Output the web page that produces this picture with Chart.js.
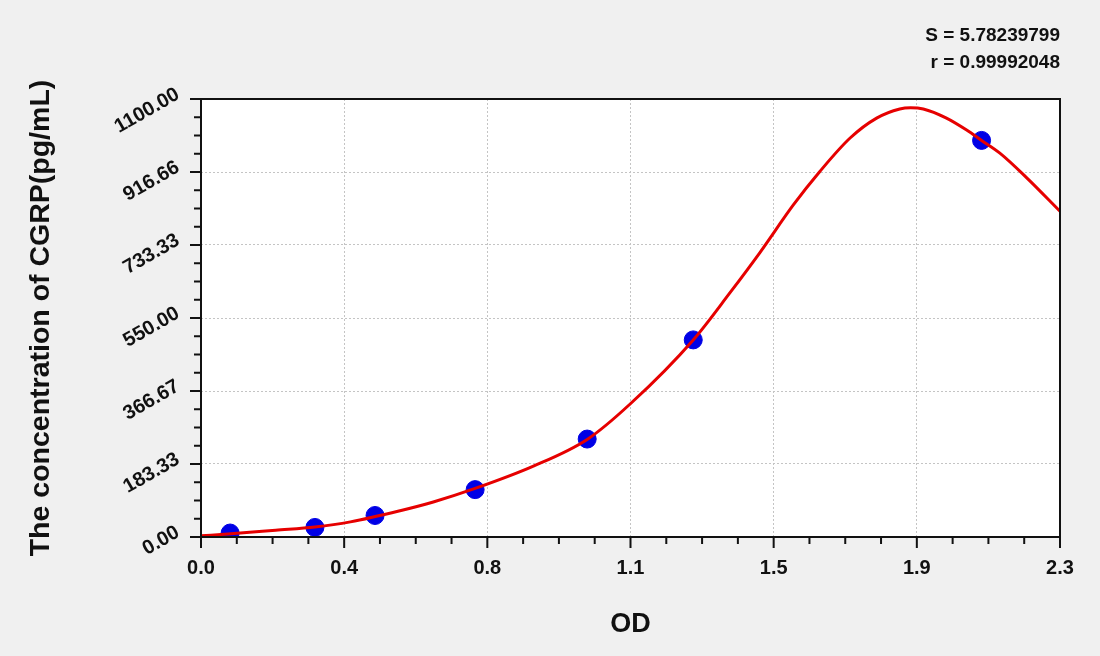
<!DOCTYPE html>
<html>
<head>
<meta charset="utf-8">
<title>CGRP standard curve</title>
<script src="https://cdn.jsdelivr.net/npm/chart.js@4.4.1/dist/chart.umd.min.js"></script>
<style>
  html, body { margin: 0; padding: 0; background: #f0f0f0; }
  canvas { display: block; }
</style>
</head>
<body>
<canvas id="curve" width="1100" height="656"></canvas>
<script>
// standards
const stdOD = [0.078, 0.305, 0.466, 0.734, 1.034, 1.318, 2.090];
const stdConc = [10, 24, 54, 119, 246, 495, 996];

// fitted curve
const fitOD = [0.00, 0.08, 0.20, 0.305, 0.40, 0.533, 0.622, 0.734, 0.89, 1.034, 1.149, 1.318, 1.416, 1.497, 1.586, 1.657, 1.738, 1.809, 1.871, 1.90, 1.934, 1.996, 2.05, 2.09, 2.139, 2.211, 2.30];
const fitConc = [3, 8, 17, 25, 38, 66, 88, 122, 178, 245, 334, 495, 613, 715, 834, 918, 1002, 1052, 1075, 1078, 1075, 1052, 1022, 996, 964, 902, 818];

const xTickLabels = ['0.0', '0.4', '0.8', '1.1', '1.5', '1.9', '2.3'];
const yTickLabels = ['0.00', '183.33', '366.67', '550.00', '733.33', '916.66', '1100.00'];
const xMax = 2.3;
const yMax = 1100;
const statLines = ['S = 5.78239799', 'r = 0.99992048'];

const FONT = '"Liberation Sans", Arial, sans-serif';
const INK = '#111';

function evenTicks(max, n) {
  return (scale) => {
    scale.ticks = [];
    for (let i = 0; i <= n; i++) scale.ticks.push({ value: max * i / n });
  };
}

// white plot area, frame, minor ticks, slanted y labels, fit stats
const frame = {
  id: 'frame',
  beforeDraw(chart) {
    const { ctx, chartArea: a } = chart;
    ctx.save();
    ctx.fillStyle = '#fff';
    ctx.fillRect(a.left, a.top, a.right - a.left, a.bottom - a.top);
    ctx.restore();
  },
  afterDraw(chart) {
    const { ctx, chartArea: a } = chart;
    const xs = chart.scales.x, ys = chart.scales.y;
    ctx.save();
    ctx.strokeStyle = INK;
    ctx.lineWidth = 2;
    ctx.strokeRect(a.left, a.top, a.right - a.left, a.bottom - a.top);

    ctx.beginPath();
    for (let i = 0; i <= 24; i++) {
      const len = i % 4 === 0 ? 11 : 7;
      const px = xs.getPixelForValue(xMax * i / 24);
      ctx.moveTo(px, a.bottom);
      ctx.lineTo(px, a.bottom + len);
      const py = ys.getPixelForValue(yMax * i / 24);
      ctx.moveTo(a.left, py);
      ctx.lineTo(a.left - len, py);
    }
    ctx.stroke();

    ctx.fillStyle = INK;
    ctx.font = 'bold 20px ' + FONT;
    ctx.textAlign = 'right';
    ctx.textBaseline = 'middle';
    ys.ticks.forEach((t, i) => {
      const py = ys.getPixelForValue(t.value);
      ctx.save();
      ctx.translate(a.left - 23, py - 6);
      ctx.rotate(-Math.PI / 6);
      ctx.fillText(yTickLabels[i], 0, 0);
      ctx.restore();
    });

    ctx.font = 'bold 19px ' + FONT;
    ctx.fillText(statLines[0], a.right, 36);
    ctx.fillText(statLines[1], a.right, 63);
    ctx.restore();
  }
};

new Chart(document.getElementById('curve'), {
  type: 'scatter',
  data: {
    datasets: [
      {
        label: 'fit',
        data: fitOD.map((x, i) => ({ x, y: fitConc[i] })),
        showLine: true,
        borderColor: '#e60000',
        borderWidth: 3,
        pointRadius: 0,
        cubicInterpolationMode: 'monotone',
        order: 0
      },
      {
        label: 'standards',
        data: stdOD.map((x, i) => ({ x, y: stdConc[i] })),
        backgroundColor: '#0000e6',
        borderColor: '#0000e6',
        pointRadius: 9,
        order: 1
      }
    ]
  },
  options: {
    responsive: false,
    animation: false,
    devicePixelRatio: 1,
    layout: { padding: { left: 0, top: 99, right: 40, bottom: 0 } },
    plugins: {
      legend: { display: false },
      tooltip: { enabled: false }
    },
    scales: {
      x: {
        type: 'linear',
        min: 0,
        max: xMax,
        afterBuildTicks: evenTicks(xMax, 6),
        afterFit: (s) => { s.height = 119; },
        grid: { color: '#c4c4c4', lineWidth: 1, drawTicks: false },
        border: { display: false, dash: [2, 2] },
        ticks: {
          autoSkip: false,
          maxRotation: 0,
          padding: 19,
          color: INK,
          font: { family: FONT, size: 20, weight: 'bold' },
          callback: (v, i) => xTickLabels[i]
        },
        title: {
          display: true,
          text: 'OD',
          color: INK,
          font: { family: FONT, size: 27, weight: 'bold' },
          padding: { top: 0, bottom: 15 }
        }
      },
      y: {
        type: 'linear',
        min: 0,
        max: yMax,
        afterBuildTicks: evenTicks(yMax, 6),
        afterFit: (s) => { s.width = 201; },
        grid: { color: '#c4c4c4', lineWidth: 1, drawTicks: false },
        border: { display: false, dash: [2, 2] },
        ticks: { display: false },
        title: {
          display: true,
          text: 'The concentration of CGRP(pg/mL)',
          color: INK,
          font: { family: FONT, size: 28.5, weight: 'bold' },
          padding: { top: 24.5, bottom: 0 }
        }
      }
    }
  },
  plugins: [frame]
});
</script>
</body>
</html>
